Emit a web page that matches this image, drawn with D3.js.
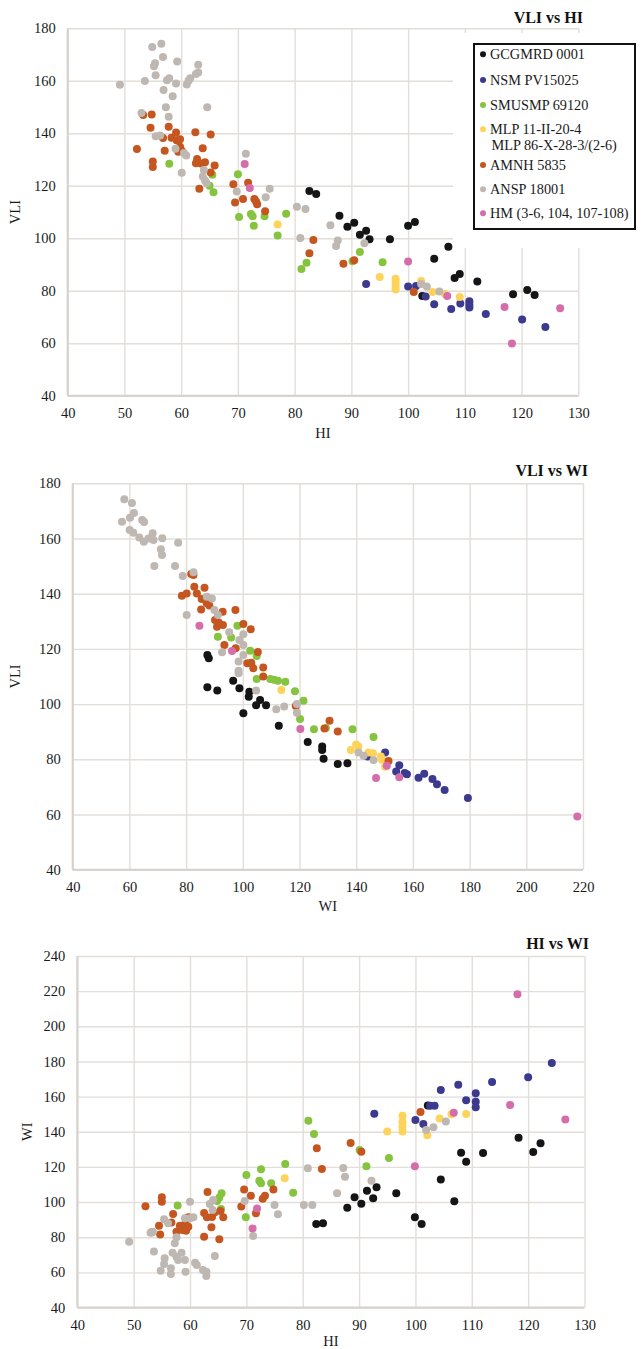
<!DOCTYPE html>
<html><head><meta charset="utf-8">
<script src="https://cdn.jsdelivr.net/npm/d3@7/dist/d3.min.js"></script>
<style>
html,body{margin:0;padding:0;background:#fff;}
svg{display:block;font-family:"Liberation Serif","Times New Roman",serif;}
</style></head>
<body><svg id="c" width="641" height="1349"></svg>
<script>
// ---- series ----
const seriesNames = ["GCGMRD 0001","NSM PV15025","SMUSMP 69120","MLP 11-II-20-4|MLP 86-X-28-3/(2-6)","AMNH 5835","ANSP 18001","HM (3-6, 104, 107-108)"];
const seriesColors = ["#151515","#3b3a8e","#86c43f","#fdd35a","#c5561f","#bfb7b1","#d56daa"];

// ---- Chart 1: VLI vs HI  [HI, VLI] ----
const vliHi_GCGMRD = [[82.6,118.0],[83.8,116.9],[87.9,108.6],[89.3,104.4],[90.5,105.9],[91.5,101.4],[92.6,102.9],[93.2,99.6],[96.8,99.6],[100.0,104.8],[101.2,106.2],[107.1,96.8],[104.6,92.2],[108.2,84.9],[109.1,86.4],[112.2,83.5],[102.5,78.0],[118.5,78.7],[121.0,80.3],[122.3,78.4]];
const vliHi_NSM = [[92.6,82.6],[100.0,81.6],[101.4,81.8],[103.1,77.8],[104.6,74.9],[107.6,73.1],[109.2,75.2],[110.8,76.0],[110.8,74.8],[110.8,73.6],[113.7,71.2],[120.1,69.1],[124.2,66.2]];
const vliHi_SMUSMP = [[57.9,128.4],[65.5,124.2],[65.0,120.0],[65.7,117.5],[70.0,124.4],[70.2,108.1],[72.3,109.3],[72.6,108.4],[72.8,104.8],[74.7,108.4],[78.5,109.4],[77.0,101.1],[81.2,88.3],[82.1,90.7],[91.5,94.8],[90.2,91.3],[95.5,90.9]];
const vliHi_MLP = [[77.0,105.3],[95.0,85.3],[97.8,84.6],[97.8,83.2],[97.8,81.8],[97.8,80.5],[102.3,83.7],[104.3,79.5],[106.5,78.8],[109.1,77.6]];
const vliHi_AMNH = [[52.2,134.0],[53.3,147.0],[54.8,147.2],[54.6,142.1],[55.0,129.3],[55.0,127.2],[56.8,138.2],[57.1,133.4],[57.8,142.5],[58.3,138.3],[59.1,140.3],[59.2,137.4],[59.8,137.7],[59.8,134.9],[60.1,133.4],[59.5,133.0],[62.5,140.4],[63.8,134.3],[65.2,139.5],[62.8,130.2],[63.5,128.5],[64.2,129.0],[62.6,128.6],[65.9,127.7],[65.2,125.1],[63.2,118.9],[69.2,120.6],[69.5,113.6],[70.9,115.0],[71.8,121.2],[72.9,115.0],[73.2,114.0],[73.4,113.0],[74.8,110.3],[83.3,99.4],[82.6,94.3],[88.6,90.3],[90.5,91.6],[101.0,79.5]];
const vliHi_ANSP = [[49.2,158.5],[53.6,159.9],[54.9,172.9],[56.5,174.1],[55.4,166.7],[55.2,165.5],[56.8,169.1],[55.5,162.1],[59.3,167.4],[57.5,160.2],[57.9,161.0],[56.9,156.5],[59.1,159.0],[58.5,154.1],[61.0,158.6],[61.3,160.0],[61.6,161.0],[62.6,162.6],[63.0,163.2],[63.0,166.1],[57.3,149.9],[57.8,146.3],[64.6,149.9],[53.0,147.7],[55.5,138.9],[56.3,139.2],[59.0,134.1],[60.5,132.5],[60.9,131.5],[60.1,125.0],[64.0,126.0],[63.8,123.5],[64.2,122.0],[64.5,121.0],[71.4,132.2],[69.8,117.8],[75.6,118.9],[74.9,115.6],[80.4,112.0],[81.9,111.2],[81.0,100.1],[86.3,105.0],[87.6,99.2],[87.3,97.1],[92.3,98.1],[102.3,82.6],[103.3,81.6],[105.5,79.7]];
const vliHi_HM = [[71.2,128.3],[72.1,119.2],[100.0,91.2],[106.9,78.0],[117.0,73.8],[118.3,59.9],[126.8,73.4]];

// ---- Chart 2: VLI vs WI  [WI, VLI] ----
const vliWi_GCGMRD = [[87.5,117.8],[88.0,116.6],[96.6,108.5],[87.5,106.1],[91.0,104.9],[98.8,105.7],[102.3,104.5],[102.1,102.7],[106.1,101.5],[104.7,99.6],[108.2,99.6],[100.2,96.7],[112.7,92.2],[122.9,86.3],[128.0,84.6],[128.0,83.4],[128.5,80.2],[133.5,78.3],[136.9,78.6]];
const vliWi_NSM = [[144.0,81.0],[150.2,82.5],[155.2,77.8],[154.1,75.6],[157.1,75.0],[157.9,74.6],[162.0,73.3],[164.0,74.8],[166.9,72.9],[168.5,71.0],[171.2,68.9],[179.4,66.0]];
const vliWi_SMUSMP = [[98.1,128.4],[91.2,124.4],[95.9,124.1],[102.6,119.3],[104.9,117.4],[104.9,109.1],[109.7,109.1],[111.0,108.8],[112.4,108.5],[115.0,108.1],[118.4,104.7],[121.4,101.2],[120.2,94.6],[125.1,90.9],[129.3,91.3],[138.7,90.9],[146.1,88.1]];
const vliWi_MLP = [[113.6,105.1],[138.1,83.4],[140.0,85.4],[140.8,84.6],[144.3,82.5],[145.9,82.2],[148.7,81.0],[149.1,79.8],[150.2,77.3]];
const vliWi_AMNH = [[81.8,147.1],[82.6,146.8],[78.5,139.3],[80.2,140.1],[82.9,142.5],[83.8,140.1],[86.5,142.2],[85.5,138.1],[87.3,136.5],[88.2,135.7],[85.3,134.3],[92.9,133.5],[97.4,134.1],[90.2,130.5],[91.5,129.6],[93.0,128.7],[90.9,128.0],[100.2,129.0],[102.8,127.1],[93.5,121.4],[97.5,120.2],[105.3,118.9],[101.6,114.8],[103.0,115.0],[103.7,113.0],[107.2,113.3],[107.2,110.0],[118.7,99.3],[130.6,94.0],[128.8,91.2],[133.5,90.1],[151.4,79.4]];
const vliWi_ANSP = [[58.2,174.2],[60.9,172.9],[61.6,169.2],[60.2,167.5],[57.4,166.1],[64.5,166.7],[65.2,166.0],[60.1,163.1],[61.4,162.1],[63.5,160.4],[65.1,158.8],[66.7,160.0],[68.2,161.9],[68.5,159.5],[71.6,160.1],[71.1,156.1],[71.5,154.0],[77.2,158.5],[68.8,150.0],[76.1,150.0],[78.8,146.4],[82.6,147.8],[80.2,132.3],[87.3,138.9],[89.1,138.3],[90.0,134.1],[91.2,132.3],[95.2,126.0],[100.2,125.3],[98.8,123.2],[100.2,121.4],[92.7,118.8],[100.2,117.8],[98.5,115.4],[98.5,112.1],[98.5,111.2],[104.7,104.9],[111.8,98.1],[114.6,99.1],[119.1,100.0],[119.1,96.9],[140.8,82.5],[142.6,81.3],[146.1,79.7]];
const vliWi_HM = [[84.7,128.4],[96.2,119.2],[120.3,91.0],[147.0,73.2],[155.2,73.5],[150.8,77.7],[218.0,59.3]];

// ---- Chart 3: HI vs WI  [HI, WI] ----
const hiWi_GCGMRD = [[82.4,87.5],[83.6,87.9],[87.9,96.8],[89.2,102.7],[90.4,99.1],[91.4,106.5],[92.5,102.1],[93.1,108.4],[96.6,105.0],[99.9,91.3],[101.1,87.5],[104.5,112.9],[106.9,100.4],[108.1,128.1],[109.0,123.0],[112.0,127.9],[118.3,136.6],[120.9,128.5],[122.2,133.4],[102.2,155.0]];
const hiWi_NSM = [[92.7,150.3],[100.0,146.7],[101.4,144.4],[102.6,154.8],[103.4,154.8],[104.5,163.8],[107.6,166.8],[109.0,157.9],[110.7,161.9],[110.7,157.1],[110.7,153.9],[113.6,168.3],[120.0,171.0],[124.2,179.1]];
const hiWi_SMUSMP = [[57.8,98.1],[65.6,105.0],[65.2,102.5],[64.8,100.6],[65.5,96.0],[70.0,115.4],[69.9,91.3],[72.6,118.6],[72.3,112.1],[72.6,110.7],[74.4,110.7],[76.9,121.7],[78.3,105.3],[81.0,146.3],[82.0,138.7],[90.1,129.6],[91.3,120.3],[95.3,125.1]];
const hiWi_MLP = [[95.0,140.2],[97.7,149.1],[97.7,145.7],[97.7,142.9],[97.7,140.2],[104.3,147.6],[106.4,149.9],[109.0,150.1],[102.1,138.0],[76.8,113.5]];
const hiWi_AMNH = [[52.1,97.6],[55.0,102.7],[55.0,100.2],[54.5,86.5],[54.7,81.6],[53.2,82.8],[57.0,93.2],[56.7,88.3],[57.6,83.1],[58.2,86.5],[58.7,84.1],[59.2,87.9],[59.7,91.3],[59.7,86.0],[59.3,83.7],[63.1,105.7],[62.5,93.8],[63.0,91.3],[63.9,91.5],[64.3,93.9],[63.8,85.6],[62.5,80.3],[65.2,78.8],[65.9,91.3],[65.4,94.9],[69.1,97.4],[69.6,107.2],[70.8,103.6],[71.7,93.6],[72.9,101.9],[73.3,103.6],[74.8,107.2],[82.5,130.6],[83.4,118.8],[88.5,133.6],[90.4,128.6],[100.9,151.2]];
const hiWi_ANSP = [[49.2,77.4],[53.0,82.6],[53.4,83.1],[53.6,71.8],[55.4,90.2],[56.1,87.9],[55.5,68.0],[55.4,64.8],[54.8,60.9],[56.6,62.3],[56.6,59.1],[56.9,71.2],[57.6,68.9],[57.9,67.0],[58.5,71.2],[59.1,67.0],[59.2,60.4],[57.3,76.5],[57.6,80.0],[59.1,90.8],[60.0,90.8],[60.6,91.3],[60.0,100.2],[60.9,65.5],[61.2,64.2],[62.3,61.3],[62.9,57.9],[62.9,60.4],[64.4,69.3],[63.5,98.9],[64.1,101.2],[64.0,95.5],[69.7,100.6],[71.2,80.7],[75.0,98.3],[75.6,93.0],[80.2,98.3],[81.7,98.3],[80.9,119.2],[86.1,105.0],[87.2,119.4],[87.5,114.4],[92.2,112.1],[101.9,141.0],[103.2,142.5],[105.4,145.9]];
const hiWi_HM = [[118.1,218.2],[116.8,155.2],[126.6,146.9],[106.8,150.8],[99.9,120.3],[71.9,96.4],[71.1,85.0]];

// ---- ticks ----
const ticksX1 = [40,50,60,70,80,90,100,110,120,130];
const ticksY1 = [40,60,80,100,120,140,160,180];
const ticksX2 = [40,60,80,100,120,140,160,180,200,220];
const ticksY2 = [40,60,80,100,120,140,160,180];
const ticksX3 = [40,50,60,70,80,90,100,110,120,130];
const ticksY3 = [40,60,80,100,120,140,160,180,200,220,240];

const charts = [
  {title:"VLI vs HI", xLab:"HI", yLab:"VLI", xt:ticksX1, yt:ticksY1,
   data:[vliHi_GCGMRD,vliHi_NSM,vliHi_SMUSMP,vliHi_MLP,vliHi_AMNH,vliHi_ANSP,vliHi_HM],
   box:{l:67.7,r:578.3,t:28.3,b:395.8}, titleX:583, titleY:23, yLabX:20, xLabOff:42, legend:true},
  {title:"VLI vs WI", xLab:"WI", yLab:"VLI", xt:ticksX2, yt:ticksY2,
   data:[vliWi_GCGMRD,vliWi_NSM,vliWi_SMUSMP,vliWi_MLP,vliWi_AMNH,vliWi_ANSP,vliWi_HM],
   box:{l:72.7,r:583.0,t:483.3,b:869.7}, titleX:588, titleY:476, yLabX:20, xLabOff:41, legend:false},
  {title:"HI vs WI", xLab:"HI", yLab:"WI", xt:ticksX3, yt:ticksY3,
   data:[hiWi_GCGMRD,hiWi_NSM,hiWi_SMUSMP,hiWi_MLP,hiWi_AMNH,hiWi_ANSP,hiWi_HM],
   box:{l:77.3,r:584.5,t:956,b:1307.5}, titleX:589, titleY:949, yLabX:32, xLabOff:38, legend:false}
];

const svg = d3.select("#c");
const gridCol = "#e2deda", axisCol = "#d6d1cc", txtCol = "#1a1a1a";
const FS = 14.5;

charts.forEach(ch => {
  const b = ch.box;
  const x = d3.scaleLinear().domain(d3.extent(ch.xt)).range([b.l,b.r]);
  const y = d3.scaleLinear().domain(d3.extent(ch.yt)).range([b.b,b.t]);
  const g = svg.append("g");
  // grid
  const gx = d3.axisBottom(x).tickValues(ch.xt).tickSize(-(b.b-b.t)).tickFormat("");
  g.append("g").attr("transform",`translate(0,${b.b})`).call(gx)
    .call(s=>s.select(".domain").remove())
    .call(s=>s.selectAll("line").attr("stroke",gridCol).attr("stroke-width",1.4));
  const gy = d3.axisLeft(y).tickValues(ch.yt).tickSize(-(b.r-b.l)).tickFormat("");
  g.append("g").attr("transform",`translate(${b.l},0)`).call(gy)
    .call(s=>s.select(".domain").remove())
    .call(s=>s.selectAll("line").attr("stroke",gridCol).attr("stroke-width",1.4));
  // axis lines
  g.append("line").attr("x1",b.l).attr("x2",b.l).attr("y1",b.t).attr("y2",b.b).attr("stroke",axisCol).attr("stroke-width",2);
  g.append("line").attr("x1",b.l).attr("x2",b.r).attr("y1",b.b).attr("y2",b.b).attr("stroke",axisCol).attr("stroke-width",2);
  // tick labels
  const ax = d3.axisBottom(x).tickValues(ch.xt).tickSize(0).tickPadding(12);
  g.append("g").attr("transform",`translate(0,${b.b})`).call(ax)
    .call(s=>s.select(".domain").remove())
    .call(s=>s.selectAll("text").attr("font-family","Liberation Serif").attr("font-size",FS).attr("fill",txtCol));
  const ay = d3.axisLeft(y).tickValues(ch.yt).tickSize(0).tickPadding(12);
  g.append("g").attr("transform",`translate(${b.l},0)`).call(ay)
    .call(s=>s.select(".domain").remove())
    .call(s=>s.selectAll("text").attr("font-family","Liberation Serif").attr("font-size",FS).attr("fill",txtCol));
  // axis titles
  g.append("text").attr("x",(b.l+b.r)/2).attr("y",b.b+ch.xLabOff).attr("text-anchor","middle")
    .attr("font-size",FS).attr("fill",txtCol).text(ch.xLab);
  g.append("text").attr("transform",`translate(${ch.yLabX},${(b.t+b.b)/2}) rotate(-90)`).attr("text-anchor","middle")
    .attr("font-size",FS).attr("fill",txtCol).text(ch.yLab);
  // title
  g.append("text").attr("x",ch.titleX).attr("y",ch.titleY).attr("text-anchor","end")
    .attr("font-size",16).attr("font-weight","bold").attr("fill","#111").text(ch.title);

  if (ch.legend) {
    g.append("rect").attr("x",453).attr("y",33).attr("width",188).attr("height",215).attr("fill","#fff");
  }
  // points
  ch.data.forEach((arr,i) => {
    g.append("g").selectAll("circle").data(arr).join("circle")
      .attr("cx",d=>x(d[0])).attr("cy",d=>y(d[1])).attr("r",4)
      .attr("fill",seriesColors[i]);
  });
  if (ch.legend) {
    const lg = g.append("g");
    lg.append("rect").attr("x",474).attr("y",44).attr("width",161).attr("height",185)
      .attr("fill","#fff").attr("stroke","#111").attr("stroke-width",2);
    const ys = [54.3,80,105,129.3,165,189.3,213.3];
    seriesNames.forEach((n,i)=>{
      lg.append("circle").attr("cx",483).attr("cy",ys[i]).attr("r",3).attr("fill",seriesColors[i]);
      const parts = n.split("|");
      parts.forEach((p,j)=>{
        lg.append("text").attr("x",490+(j?1.5:0)).attr("y",ys[i]+5+j*15.7).attr("font-size",14.3)
          .attr("fill",txtCol).text(p);
      });
    });
  }
});
</script>
</body></html>
